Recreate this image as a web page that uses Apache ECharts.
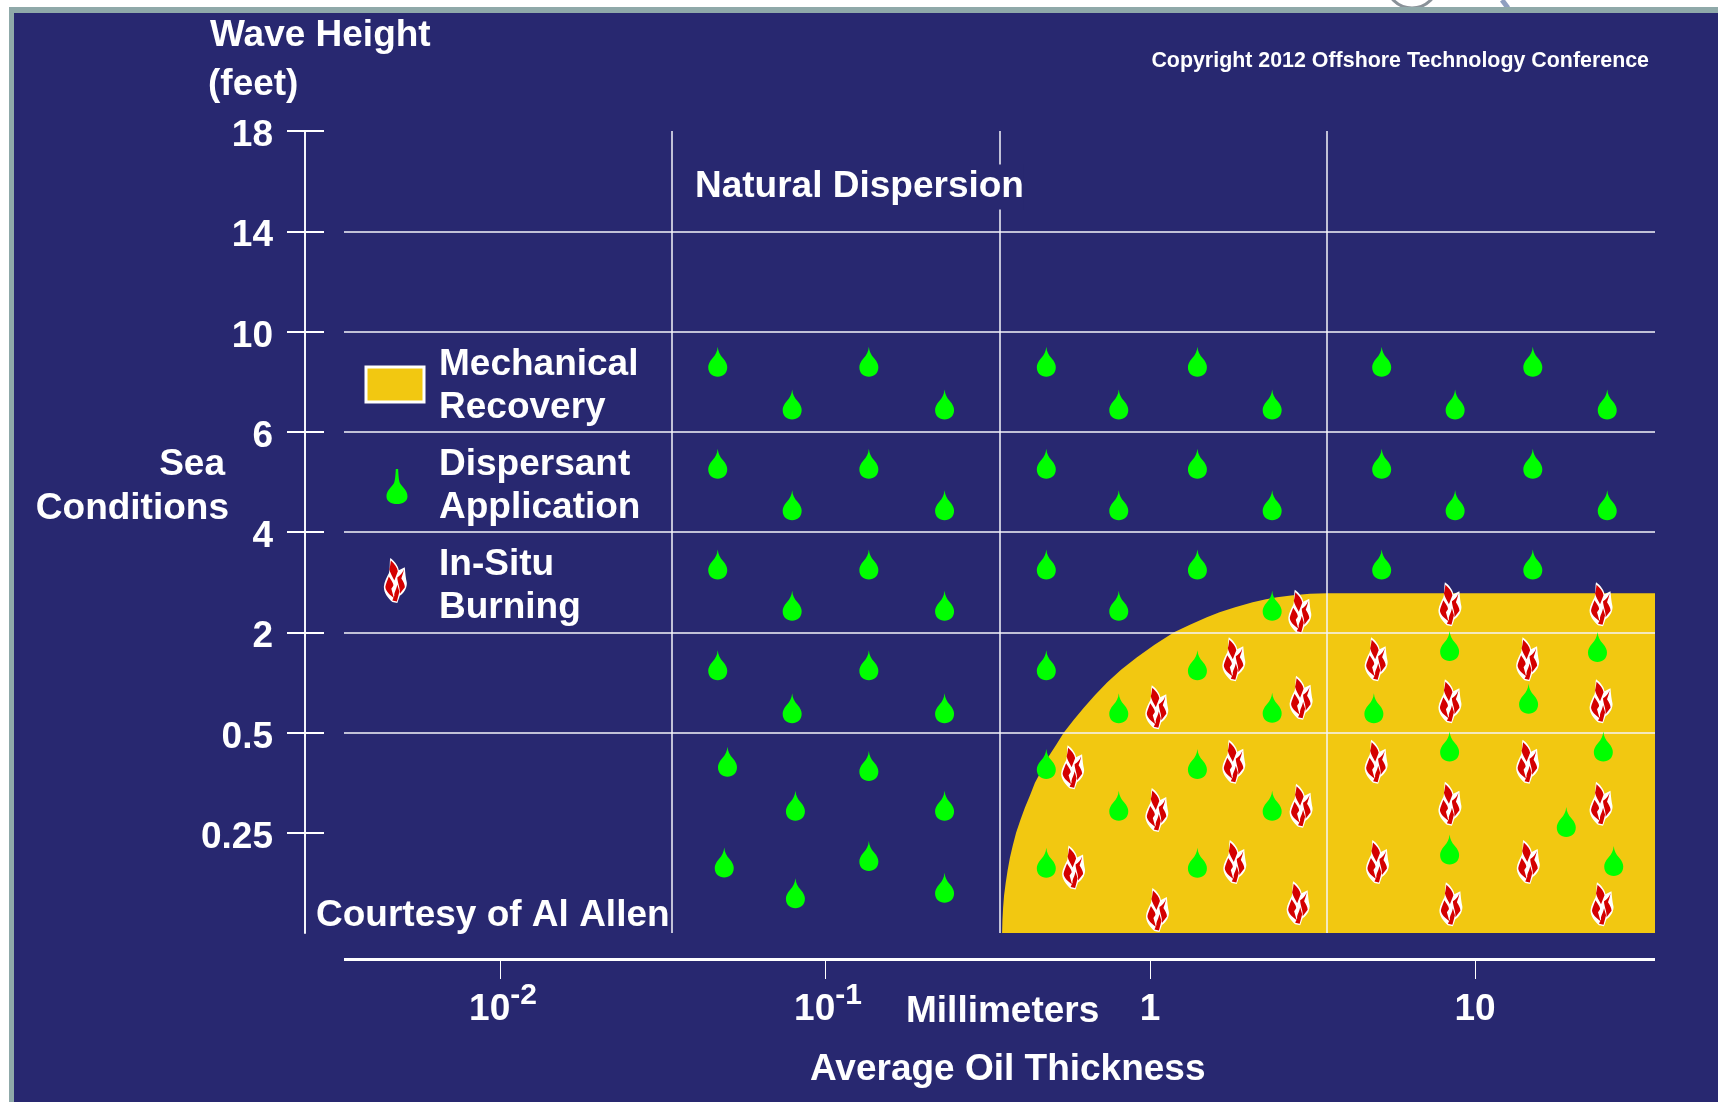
<!DOCTYPE html>
<html>
<head>
<meta charset="utf-8">
<title>Oil thickness vs sea conditions</title>
<script src="https://cdn.jsdelivr.net/npm/echarts@6/dist/echarts.min.js"></script>
<style>
    html, body { margin: 0; padding: 0; background: #fff; }
    #main { width: 1718px; height: 1102px; }
</style>
</head>
<body>
<div id="main"></div>
<script>
// x is log10 of the thickness in mm, y is the rank of the (uneven) wave height scale
const xTickValues = [-2, -1, 0, 1]
const xTickLabels = ['{p|10}{s|-2}', '{p|10}{s|-1}', '{b|1}', '{b|10}']
const xBoundaries = [-1.471, -0.463, 0.545]
const yTickValues = [1, 2, 3, 4, 5, 6, 7, 8]
const yTickLabels = ['0.25', '0.5', '2', '4', '6', '10', '14', '18']

const recoveryX = [
    -0.455, -0.454, -0.452, -0.449, -0.444, -0.438, -0.431, -0.422, -0.412, -0.399, -0.385, -0.369,
    -0.354, -0.333, -0.314, -0.289, -0.265, -0.235, -0.203, -0.169, -0.132, -0.089, -0.04, 0.014,
    0.074, 0.123, 0.175, 0.214, 0.262, 0.316, 0.357, 0.391, 0.44, 0.492, 0.545, 1.554
]
const recoveryY = [
    0, 0.125, 0.25, 0.375, 0.5, 0.625, 0.75, 0.875, 1, 1.125, 1.25, 1.375,
    1.5, 1.625, 1.75, 1.875, 2, 2.125, 2.25, 2.375, 2.5, 2.625, 2.75, 2.875,
    3, 3.075, 3.15, 3.2, 3.25, 3.3, 3.33, 3.35, 3.37, 3.385, 3.39, 3.39
]

const dropX = [
    -1.33, -0.865, -0.319, 0.146, 0.713, 1.178,
    -1.101, -0.632, -0.096, 0.376, 0.939, 1.407,
    -1.33, -0.865, -0.319, 0.146, 0.713, 1.178,
    -1.101, -0.632, -0.096, 0.376, 0.939, 1.407,
    -1.33, -0.865, -0.319, 0.146, 0.713, 1.178,
    -1.101, -0.632, -0.096, 0.376,
    -1.33, -0.865, -0.319, 0.146, 0.922, 1.377,
    -1.101, -0.632, -0.096, 0.376, 0.689, 1.165,
    -1.3, -0.865, -0.319, 0.146, 0.922, 1.395,
    -1.091, -0.632, -0.096, 0.376, 1.281,
    -1.31, -0.865, -0.319, 0.146, 0.922, 1.427,
    -1.091, -0.632
]
const dropY = [
    5.698, 5.698, 5.698, 5.698, 5.698, 5.698,
    5.272, 5.272, 5.272, 5.272, 5.272, 5.272,
    4.681, 4.681, 4.681, 4.681, 4.681, 4.681,
    4.266, 4.266, 4.266, 4.266, 4.266, 4.266,
    3.676, 3.676, 3.676, 3.676, 3.676, 3.676,
    3.265, 3.265, 3.265, 3.265,
    2.67, 2.67, 2.67, 2.67, 2.863, 2.853,
    2.241, 2.241, 2.241, 2.247, 2.241, 2.337,
    1.709, 1.665, 1.686, 1.686, 1.86, 1.86,
    1.27, 1.27, 1.27, 1.27, 1.107,
    0.703, 0.769, 0.7, 0.7, 0.833, 0.718,
    0.397, 0.452
]

const flameX = [
    0.461, 0.258, 0.021, 0.465, 0.696, -0.238, 0.258, 0.696, 0.021, 0.465, -0.235, 0.261, 0.7,
    0.023, 0.456, 0.923, 1.388, 1.162, 0.923, 1.388, 1.162, 0.923, 1.388, 1.164, 0.926, 1.391
]
const flameY = [
    3.205, 2.731, 2.251, 2.347, 2.731, 1.653, 1.709, 1.709, 1.227, 1.27, 0.653, 0.708, 0.708,
    0.229, 0.296, 3.28, 3.28, 2.731, 2.311, 2.311, 1.709, 1.289, 1.289, 0.708, 0.287, 0.287
]

// the two legend icons sit inside the plot area
const legendDrop = [-2.317, 4.454]
const legendFlame = [-2.322, 3.516]

const navy = '#282870'
const yellow = '#f2c811'
const green = '#00ff00'
const red = '#d40000'
const lineColor = '#f4f4fa'
const fontFamily = '"Liberation Sans", Arial, sans-serif'

const dropPath = 'M9 0C9.5 5 11 8 14 11.5C17 15 18 18 18 20.5C18 26.5 14 30 9 30C4 30 0 26.5 0 20.5C0 18 1 15 4 11.5C7 8 8.5 5 9 0Z'
const legendDropPath = 'M8 0L10 0C10.3 6 10.5 9 11.5 12C14 16 18 18.5 18 23.5C18 27.5 14 30 9 30C4 30 0 27.5 0 23.5C0 18.5 4 16 6.5 12C7.5 9 7.7 6 8 0Z'
// the red path carries two empty points so that both paths scale the same way
const flameOutline = 'M13 0C22 6 29 16 30 24L42 18C43 30 44 40 46 48C47 56 42 68 32 74L27 88L17 86C8 78 0 68 0 56C1 46 6 38 10 30C13 20 11 8 13 0Z'
const flameRed = 'M0 0L0 0ZM46 88L46 88Z' +
    'M14 5C21 11 27 19 28 26L21 44C17 36 12 28 11 22C13 16 13 11 14 5Z' +
    'M40 22C39 30 36 36 35 40C39 46 42 52 42 57L32 70C33 58 27 48 27 38C33 34 37 30 40 22Z' +
    'M10 36C14 42 20 50 19 54L15 60L20 78C12 72 3 64 3 56C4 50 7 44 10 36Z' +
    'M27 52L31 66L26 85L17 83L21 74C20 68 25 62 27 52Z'

function text(str, x, y, extra) {
    return {
        type: 'text', x: x, y: y, silent: true, z: 10,
        style: Object.assign({
            text: str, fill: '#fff', font: 'bold 37px ' + fontFamily,
            align: 'left', verticalAlign: 'middle'
        }, extra || {})
    }
}

function marks(name, path, size, color, z, points) {
    return {
        name: name,
        type: 'scatter',
        z: z,
        symbol: 'path://' + path,
        symbolSize: size,
        itemStyle: { color: color, opacity: 1 },
        data: points
    }
}

function createOption() {
    const drops = dropX.map((x, i) => [x, dropY[i]])
    const flames = flameX.map((x, i) => [x, flameY[i]])
    const tickFont = { color: '#fff', fontFamily: fontFamily, fontWeight: 'bold', fontSize: 37, lineHeight: 58 }
    return {
        animation: false,
        grid: { left: 344, right: 63, top: 131, bottom: 169 },
        xAxis: [
            {
                type: 'value', min: -2.48, max: 1.554, offset: 26, z: 1,
                axisLine: { onZero: false, lineStyle: { color: '#fff', width: 3, cap: 'butt' } },
                axisTick: { customValues: xTickValues, length: 20, lineStyle: { color: '#fff', width: 1 } },
                axisLabel: {
                    customValues: xTickValues, margin: 22,
                    formatter: v => xTickLabels[xTickValues.indexOf(v)],
                    rich: {
                        b: tickFont,
                        p: Object.assign({ padding: [0, 0, 0, 6] }, tickFont),
                        s: { color: '#fff', fontFamily: fontFamily, fontWeight: 'bold', fontSize: 30, lineHeight: 30, verticalAlign: 'top' }
                    }
                },
                splitLine: { show: false }
            },
            {
                // only here to draw the vertical boundaries
                type: 'value', min: -2.48, max: 1.554, position: 'top', z: 1,
                axisLine: { show: false },
                axisTick: { show: false, customValues: xBoundaries },
                axisLabel: { show: false },
                splitLine: { show: true, lineStyle: { color: lineColor, width: 1.5 } }
            }
        ],
        yAxis: [
            {
                type: 'value', min: 0, max: 8, offset: 39, z: 1,
                axisLine: { show: true, onZero: false, lineStyle: { color: lineColor, width: 2 } },
                axisTick: { show: true, customValues: yTickValues, length: 18, lineStyle: { color: '#fff', width: 2 } },
                axisLabel: {
                    // labels hang a little below their ticks in the original
                    customValues: yTickValues, margin: 32, verticalAlign: 'top', lineHeight: 10,
                    color: '#fff', fontFamily: fontFamily, fontWeight: 'bold', fontSize: 37,
                    formatter: v => yTickLabels[yTickValues.indexOf(v)]
                },
                splitLine: { show: true, showMinLine: false, showMaxLine: false, lineStyle: { color: lineColor, width: 1.5 } }
            },
            {
                // inner half of the ticks that cross the axis line
                type: 'value', min: 0, max: 8, offset: 39, z: 1,
                position: 'left',
                axisLine: { show: false, onZero: false },
                axisTick: { show: true, inside: true, customValues: yTickValues, length: 19, lineStyle: { color: '#fff', width: 2 } },
                axisLabel: { show: false },
                splitLine: { show: false }
            }
        ],
        series: [
            {
                name: 'Mechanical Recovery',
                type: 'line',
                z: 0,
                symbol: 'none',
                lineStyle: { width: 0 },
                areaStyle: { color: yellow, opacity: 1, origin: 'start' },
                data: recoveryX.map((x, i) => [x, recoveryY[i]])
            },
            marks('Dispersant Application', dropPath, [19, 30], green, 3, drops),
            marks('In-Situ Burning', flameOutline, [23, 44], '#fff', 4, flames),
            marks('In-Situ Burning flame', flameRed, [23, 44], red, 5, flames),
            marks('Legend drop', legendDropPath, [21, 35], green, 3, [legendDrop]),
            marks('Legend flame', flameOutline, [23, 45], '#fff', 4, [legendFlame]),
            marks('Legend flame red', flameRed, [23, 45], red, 5, [legendFlame])
        ],
        graphic: [
            { type: 'rect', silent: true, z: -20, shape: { x: 9, y: 7, width: 1709, height: 1095 }, style: { fill: '#8fa9a9' } },
            { type: 'rect', silent: true, z: -19, shape: { x: 14, y: 13, width: 1704, height: 1089 }, style: { fill: navy } },
            // bits of the logo cut off at the top of the slide
            { type: 'circle', silent: true, z: -21, shape: { cx: 1412, cy: -18, r: 26 }, style: { fill: 'none', stroke: '#8a9299', lineWidth: 3 } },
            { type: 'line', silent: true, z: -21, shape: { x1: 1502, y1: 0, x2: 1508, y2: 8 }, style: { stroke: '#8f9fc0', lineWidth: 5 } },

            text('Wave Height', 210, 36),
            text('(feet)', 208, 85),
            text('Copyright 2012 Offshore Technology Conference', 1649, 61, { font: 'bold 21.4px ' + fontFamily, align: 'right' }),
            text('Natural Dispersion', 695, 187, { backgroundColor: navy, padding: [4, 0, 4, 0] }),
            text('Mechanical\nRecovery', 439, 386, { lineHeight: 43 }),
            text('Dispersant\nApplication', 439, 486, { lineHeight: 43 }),
            text('In-Situ\nBurning', 439, 586, { lineHeight: 43 }),
            text('Sea', 225, 465, { align: 'right' }),
            text('Conditions', 229, 509, { align: 'right' }),
            text('Courtesy of Al Allen', 316, 916),
            text('Millimeters', 906, 1012),
            text('Average Oil Thickness', 810, 1070),

            { type: 'rect', silent: true, z: 10, shape: { x: 366, y: 367, width: 58, height: 35 }, style: { fill: yellow, stroke: '#fff', lineWidth: 3 } }
        ]
    }
}

let chart = echarts.init(document.getElementById('main'))
chart.setOption(createOption())
</script>
</body>
</html>
